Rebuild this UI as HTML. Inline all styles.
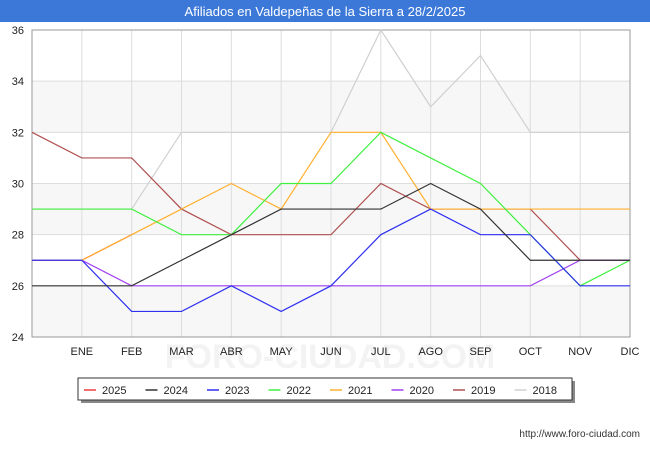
<!DOCTYPE html>
<html><head><meta charset="utf-8"><style>
body{margin:0;width:650px;height:450px;background:#fff;font-family:"Liberation Sans",sans-serif;overflow:hidden}
</style></head><body>
<svg width="650" height="450" xmlns="http://www.w3.org/2000/svg">
<rect x="0" y="0" width="650" height="22" fill="#3c78d8"/>
<text x="325" y="16" text-anchor="middle" fill="#fff" font-size="13">Afiliados en Valdepeñas de la Sierra a 28/2/2025</text>
<g id="plot"></g>
<g id="legend"></g>
<text x="640" y="437" text-anchor="end" font-size="10" fill="#333">http://www.foro-ciudad.com</text>
</svg>
<script>
const categories=["","ENE","FEB","MAR","ABR","MAY","JUN","JUL","AGO","SEP","OCT","NOV","DIC"];
const yTicks=[24,26,28,30,32,34,36];
const seriesNames=["2025","2024","2023","2022","2021","2020","2019","2018"];
const seriesColors=["#f04040","#333333","#3030f0","#40f040","#ffb030","#a040f0","#b05050","#d0d0d0"];
const s2025=[null,27,28];
const s2024=[26,26,26,27,28,29,29,29,30,29,27,27,27];
const s2023=[27,27,25,25,26,25,26,28,29,28,28,26,26];
const s2022=[29,29,29,28,28,30,30,32,31,30,28,26,27];
const s2021=[27,27,28,29,30,29,32,32,29,29,29,29,29];
const s2020=[27,27,26,26,26,26,26,26,26,26,26,27,27];
const s2019=[32,31,31,29,28,28,28,30,29,29,29,27,27];
const s2018=[29,29,29,32,32,32,32,36,33,35,32,32,32];
const seriesData=[s2025,s2024,s2023,s2022,s2021,s2020,s2019,s2018];
const NS="http://www.w3.org/2000/svg";
const X0=32,X1=630,Y0=337,Y1=30,ymin=24,ymax=36;
const xs=i=>X0+i*(X1-X0)/(categories.length-1);
const ys=v=>Y0-(v-ymin)*(Y0-Y1)/(ymax-ymin);
const plot=document.getElementById('plot');
function mk(tag,attrs,parent){const e=document.createElementNS(NS,tag);for(const k in attrs)e.setAttribute(k,attrs[k]);parent.appendChild(e);return e;}
for(let i=0;i<yTicks.length-1;i++){
 if(i%2==0){const r=mk('rect',{x:X0,y:ys(yTicks[i+1]),width:X1-X0,height:ys(yTicks[i])-ys(yTicks[i+1]),fill:'#f7f7f7'},plot);
 
 }
}
const wm=mk('text',{x:330,y:368,'text-anchor':'middle',fill:'#f3f3f3','font-size':34,'font-weight':'bold'},plot);
wm.textContent='FORO-CIUDAD.COM';


yTicks.forEach(t=>{
 const l=mk('line',{x1:X0,x2:X1,y1:ys(t),y2:ys(t),stroke:'#dddddd'},plot);
 
 
 const tx=mk('text',{x:X0-8,y:ys(t)+4,'text-anchor':'end','font-size':11,fill:'#222'},plot);
 tx.textContent=t;
 
 
});
categories.forEach((c,i)=>{
 const l=mk('line',{x1:xs(i),x2:xs(i),y1:Y1,y2:Y0,stroke:'#dddddd'},plot);
 
 
 if(c){const tx=mk('text',{x:xs(i),y:Y0+18,'text-anchor':'middle','font-size':11,fill:'#222'},plot);
 tx.textContent=c;
 
 }
});
const frame=mk('rect',{x:X0,y:Y1,width:X1-X0,height:Y0-Y1,fill:'none',stroke:'#999'},plot);


const order=[0,7,6,5,4,3,2,1];
order.forEach(s=>{
 const pts=[];seriesData[s].forEach((v,i)=>{if(v!=null)pts.push(xs(i)+','+ys(v));});
 const p=mk('polyline',{points:pts.join(' '),fill:'none',stroke:seriesColors[s],'stroke-width':1.2},plot);
 
 
});
const lg=document.getElementById('legend');
mk('rect',{x:81,y:381,width:494,height:22,fill:'#888'},lg);
const box=mk('rect',{x:78,y:378,width:494,height:22,fill:'#fff',stroke:'#333'},lg);


seriesNames.forEach((n,i)=>{
 const x=84+i*61.5;
 const l=mk('line',{x1:x,x2:x+12,y1:390,y2:390,stroke:seriesColors[i],'stroke-width':1.5},lg);
 
 
 const t=mk('text',{x:x+18,y:394,'font-size':11,fill:'#222'},lg);
 t.textContent=n;
 
 
});
</script>
</body></html>
